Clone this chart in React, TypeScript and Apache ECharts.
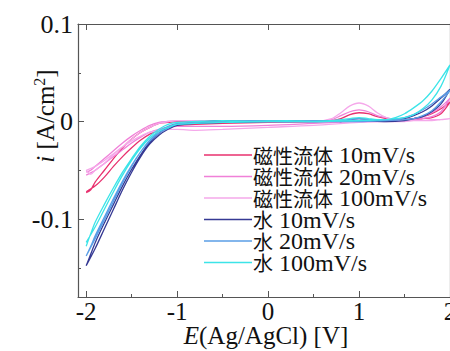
import React, { useEffect, useRef } from "react";
import * as echarts from "echarts";

const X_FWD = [-2.0, -1.95, -1.9, -1.8, -1.7, -1.6, -1.5, -1.4, -1.3, -1.2, -1.1, -1.0, -0.8, -0.5, -0.2, 0.2, 0.5, 0.7, 0.8, 0.9, 1.0, 1.1, 1.2, 1.3, 1.4, 1.5, 1.6, 1.7, 1.8, 1.9, 2.0];
const X_REV = [2.0, 1.9, 1.8, 1.7, 1.6, 1.5, 1.3, 1.0, 0.5, 0, -0.5, -0.8, -1.0, -1.1, -1.2, -1.3, -1.4, -1.5, -1.6, -1.7, -1.8, -1.9, -2.0];

const NAMES = ["磁性流体 10mV/s", "磁性流体 20mV/s", "磁性流体 100mV/s", "水 10mV/s", "水 20mV/s", "水 100mV/s"];
const COLORS = ["#e8306e", "#f080d8", "#f5a8ea", "#363a94", "#5a9ee6", "#3ce4e8"];

const MF10_FWD = [-0.073, -0.07, -0.062, -0.05, -0.038, -0.027, -0.018, -0.011, -0.006, -0.002, -0.001, 0, 0, 0, 0, 0, 0, 0.001, 0.003, 0.007, 0.009, 0.008, 0.005, 0.003, 0.002, 0.002, 0.003, 0.005, 0.008, 0.013, 0.02];
const MF10_REV = [0.02, 0.008, 0.004, 0.003, 0.002, 0.002, 0.001, 0.001, 0, -0.001, -0.002, -0.003, -0.004, -0.006, -0.009, -0.013, -0.019, -0.027, -0.036, -0.046, -0.057, -0.066, -0.072];
const MF20_FWD = [-0.052, -0.05, -0.046, -0.038, -0.03, -0.022, -0.015, -0.009, -0.004, -0.001, 0, 0.001, 0.001, 0, 0, 0, 0, 0.002, 0.006, 0.01, 0.012, 0.01, 0.006, 0.004, 0.002, 0.002, 0.003, 0.005, 0.009, 0.015, 0.024];
const MF20_REV = [0.024, 0.01, 0.005, 0.003, 0.002, 0.001, 0.001, 0, -0.002, -0.004, -0.005, -0.005, -0.005, -0.006, -0.008, -0.011, -0.016, -0.022, -0.029, -0.036, -0.043, -0.05, -0.055];
const MF100_FWD = [-0.05, -0.054, -0.05, -0.043, -0.034, -0.026, -0.018, -0.011, -0.006, -0.002, 0, 0.001, 0.001, 0, 0, 0, 0, 0.003, 0.009, 0.016, 0.019, 0.016, 0.009, 0.004, 0.002, 0.001, 0.001, 0.001, 0.001, 0.002, 0.003];
const MF100_REV = [0.003, 0.002, 0.002, 0.001, 0.001, 0, 0, -0.001, -0.004, -0.006, -0.008, -0.009, -0.008, -0.008, -0.009, -0.011, -0.015, -0.02, -0.026, -0.033, -0.04, -0.046, -0.05];
const W10_FWD = [-0.148, -0.136, -0.124, -0.104, -0.085, -0.066, -0.049, -0.034, -0.021, -0.012, -0.006, -0.003, -0.001, 0.001, 0, 0.001, 0, 0.001, 0, 0.002, 0.003, 0.002, 0.001, 0.001, 0.002, 0.003, 0.006, 0.01, 0.016, 0.024, 0.033];
const W10_REV = [0.033, 0.018, 0.01, 0.005, 0.003, 0.001, 0, 0.001, 0, 0, -0.001, -0.002, -0.004, -0.008, -0.014, -0.023, -0.036, -0.052, -0.07, -0.09, -0.11, -0.13, -0.148];
const W20_FWD = [-0.138, -0.128, -0.117, -0.098, -0.079, -0.061, -0.045, -0.031, -0.019, -0.01, -0.005, -0.002, -0.001, 0, 0.001, 0, 0.001, 0, 0.001, 0.002, 0.003, 0.002, 0.002, 0.001, 0.002, 0.004, 0.007, 0.012, 0.018, 0.025, 0.032];
const W20_REV = [0.032, 0.02, 0.011, 0.006, 0.003, 0.002, 0.001, 0, 0, 0.001, 0, -0.001, -0.003, -0.007, -0.012, -0.02, -0.031, -0.046, -0.063, -0.082, -0.101, -0.12, -0.138];
const W100_FWD = [-0.128, -0.115, -0.103, -0.085, -0.068, -0.052, -0.038, -0.025, -0.015, -0.008, -0.003, -0.001, 0, 0.001, 0, 0.001, 0, 0.001, 0.002, 0.003, 0.004, 0.003, 0.002, 0.002, 0.004, 0.008, 0.014, 0.021, 0.031, 0.044, 0.058];
const W100_REV = [0.058, 0.036, 0.022, 0.013, 0.007, 0.004, 0.002, 0.001, 0, 0, -0.001, -0.002, -0.003, -0.006, -0.01, -0.017, -0.027, -0.04, -0.055, -0.072, -0.09, -0.108, -0.124];

const FWD = [MF10_FWD, MF20_FWD, MF100_FWD, W10_FWD, W20_FWD, W100_FWD];
const REV = [MF10_REV, MF20_REV, MF100_REV, W10_REV, W20_REV, W100_REV];

const X_TICKS = [-2, -1, 0, 1, 2];
const X_MINOR = [-1.5, -0.5, 0.5, 1.5];
const Y_TICKS = [-0.1, 0, 0.1];
const Y_MINOR = [-0.15, -0.05, 0.05];

const SERIF = "'Liberation Serif', 'Times New Roman', serif";
const AX = "#555";
const TXT = "#111";

export default function App() {
  const ref = useRef<HTMLDivElement>(null);
  useEffect(() => {
    const chart = echarts.init(ref.current!, null, { renderer: "svg" });
    const line = { show: true, onZero: false, lineStyle: { color: AX, width: 1.2 } };
    const noLabel = { show: false };
    const xBase = { type: "value", min: -2.09, max: 2, splitLine: { show: false } };
    const yBase = { type: "value", min: -0.18, max: 0.1, splitLine: { show: false } };
    const series = NAMES.map((name, k) => ({
      name,
      type: "line",
      xAxisIndex: 0,
      yAxisIndex: 0,
      symbol: "none",
      smooth: 0.3,
      lineStyle: { color: COLORS[k], width: 1.3 },
      itemStyle: { color: COLORS[k] },
      data: [
        ...X_FWD.map((x, i) => [x, FWD[k][i]]),
        ...X_REV.map((x, i) => [x, REV[k][i]]),
      ],
    }));
    chart.setOption({
      animation: false,
      grid: { left: 78, top: 24, right: 0, bottom: 54, outerBoundsMode: "none", containLabel: false },
      xAxis: [
        {
          ...xBase,
          position: "bottom",
          axisLine: line,
          axisTick: { show: true, inside: true, length: 6, customValues: X_TICKS, lineStyle: { color: AX } },
          axisLabel: { customValues: X_TICKS, fontSize: 25, fontFamily: SERIF, color: TXT, margin: 2, hideOverlap: false },
        },
        {
          ...xBase,
          position: "bottom",
          axisLine: { show: false, onZero: false },
          axisTick: { show: true, inside: true, length: 3, customValues: X_MINOR, lineStyle: { color: AX } },
          axisLabel: noLabel,
        },
        {
          ...xBase,
          position: "top",
          axisLine: line,
          axisTick: { show: true, inside: true, length: 6, customValues: X_TICKS, lineStyle: { color: AX } },
          axisLabel: noLabel,
        },
      ],
      yAxis: [
        {
          ...yBase,
          position: "left",
          axisLine: line,
          axisTick: { show: true, inside: true, length: 6, customValues: Y_TICKS, lineStyle: { color: AX } },
          axisLabel: { customValues: Y_TICKS, fontSize: 26, fontFamily: SERIF, color: TXT, margin: 5 },
        },
        {
          ...yBase,
          position: "left",
          axisLine: { show: false, onZero: false },
          axisTick: { show: true, inside: true, length: 3, customValues: Y_MINOR, lineStyle: { color: AX } },
          axisLabel: noLabel,
        },
        {
          ...yBase,
          position: "right",
          axisLine: line,
          axisTick: { show: false },
          axisLabel: noLabel,
        },
      ],
      legend: {
        orient: "vertical",
        left: 204,
        top: 143,
        icon: "rect",
        itemWidth: 48,
        itemHeight: 1.5,
        itemGap: -2.5,
        padding: 0,
        data: NAMES,
        formatter: (name: string) => {
          const [a, b] = name.split(" ");
          return `{c|${a}}{l|${b}}`;
        },
        textStyle: {
          color: TXT,
          padding: [0, 0, 0, -4],
          rich: {
            c: { fontSize: 20, fontFamily: "'Noto Sans CJK JP', sans-serif", color: TXT, lineHeight: 21.5 },
            l: { fontSize: 24, fontFamily: SERIF, color: TXT, lineHeight: 21.5, padding: [0, 0, 0, 6] },
          },
        },
      },
      graphic: [
        {
          type: "text",
          x: 45,
          y: 116,
          rotation: Math.PI / 2,
          style: {
            text: "{it|i} [A/cm{sup|2}]",
            align: "center",
            verticalAlign: "middle",
            fontSize: 25,
            fontFamily: SERIF,
            fill: TXT,
            rich: {
              it: { fontSize: 25, fontFamily: SERIF, fontStyle: "italic", fill: TXT },
              sup: { fontSize: 16, fontFamily: SERIF, fill: TXT, verticalAlign: "top", padding: [0, 0, 12, 0] },
            },
          },
        },
        {
          type: "text",
          x: 266,
          y: 335,
          style: {
            text: "{it|E}(Ag/AgCl) [V]",
            align: "center",
            verticalAlign: "middle",
            fontSize: 25,
            fontFamily: SERIF,
            fill: TXT,
            rich: {
              it: { fontSize: 25, fontFamily: SERIF, fontStyle: "italic", fill: TXT },
            },
          },
        },
      ],
      series,
    });
    return () => chart.dispose();
  }, []);
  return <div ref={ref} style={{ position: "absolute", left: 0, top: 0, width: 450, height: 351 }} />;
}
